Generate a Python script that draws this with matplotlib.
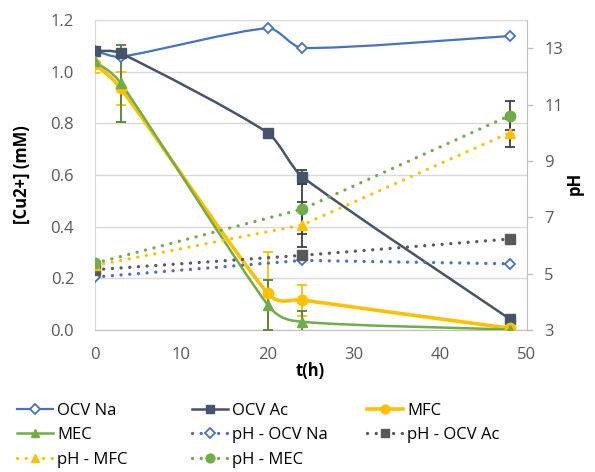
import matplotlib
matplotlib.use('Agg')
import matplotlib.pyplot as plt
from matplotlib.path import Path
from matplotlib.patches import PathPatch
from matplotlib.lines import Line2D
import numpy as np

plt.rcParams['font.family'] = ['Open Sans', 'DejaVu Sans']

# Cu2+ concentration (mM), left axis
t_cu = [0, 3, 20, 24, 48]
cu_ocv_na = [1.081, 1.058, 1.168, 1.092, 1.138]
cu_ocv_ac = [1.080, 1.071, 0.763, 0.593, 0.043]
cu_mfc = [1.030, 0.935, 0.142, 0.116, 0.007]
cu_mec = [1.040, 0.955, 0.097, 0.032, 0.002]
err_ocv_ac = [0, 0, 0, 0.026, 0]
err_mfc = [0.035, 0.063, 0.160, 0.060, 0]
err_mec = [0, 0.150, 0.095, 0.040, 0]

# pH, right axis
t_ph = [0, 24, 48]
ph_ocv_na = [4.88, 5.47, 5.35]
ph_ocv_ac = [5.14, 5.65, 6.23]
ph_mfc = [5.29, 6.73, 10.00]
ph_mec = [5.37, 7.29, 10.61]
err_ph_mfc = [0, 0.8, 0.5]
err_ph_mec = [0, 0.9, 0.5]

C_NA = '#4472C4'
C_AC = '#44546A'
C_MFC = '#FFC000'
C_MEC = '#70AD47'
C_PHAC = '#595959'
GRID = '#D9D9D9'
DOT = (0, (0.01, 2.6))


def smooth_path(x, y):
    # excel-ish smoothed line: catmull-rom bezier, control arms clamped
    pts = np.column_stack([x, y]).astype(float)
    n = len(pts)
    verts = [pts[0]]
    codes = [Path.MOVETO]
    for i in range(n - 1):
        p0 = pts[max(i - 1, 0)]
        p1 = pts[i]
        p2 = pts[i + 1]
        p3 = pts[min(i + 2, n - 1)]
        h = p2[0] - p1[0]
        v1 = (p2 - p0) / 6
        v2 = (p3 - p1) / 6
        if abs(v1[0]) > h / 3:
            v1 = v1 * (h / 3) / abs(v1[0])
        if abs(v2[0]) > h / 3:
            v2 = v2 * (h / 3) / abs(v2[0])
        verts += [p1 + v1, p2 - v2, p2]
        codes += [Path.CURVE4] * 3
    return Path(verts, codes)


def add_errors(ax, x, y, err, color):
    x = np.asarray(x)
    y = np.asarray(y)
    err = np.asarray(err)
    m = err > 0
    ax.errorbar(x[m], y[m], yerr=err[m], fmt='none', ecolor=color,
                elinewidth=1.3, capsize=3.5, capthick=1.3, zorder=4)


fig = plt.figure(figsize=(5.95, 4.72), dpi=100)
ax = fig.add_axes([0.1597, 0.3008, 0.7260, 0.6568])
ax2 = ax.twinx()

# solid Cu2+ series
solid = [
    (cu_ocv_na, C_NA, 1.6, dict(marker='D', ms=5.5, mfc='white', mec=C_NA, mew=1.3)),
    (cu_ocv_ac, C_AC, 1.8, dict(marker='s', ms=7, mfc=C_AC, mec=C_AC)),
    (cu_mfc, C_MFC, 2.6, dict(marker='o', ms=7.5, mfc=C_MFC, mec=C_MFC)),
    (cu_mec, C_MEC, 1.8, dict(marker='^', ms=7, mfc=C_MEC, mec=C_MEC)),
]
for vals, col, lw, mk in solid:
    ax.add_patch(PathPatch(smooth_path(t_cu, vals), fill=False, edgecolor=col,
                           lw=lw, zorder=3, capstyle='round', joinstyle='round'))
    ax.plot(t_cu, vals, linestyle='none', zorder=5, **mk)

add_errors(ax, t_cu, cu_ocv_ac, err_ocv_ac, '#404040')
add_errors(ax, t_cu, cu_mfc, err_mfc, C_MFC)
add_errors(ax, t_cu, cu_mec, err_mec, '#548235')

# dotted pH series
dotted = [
    (ph_ocv_na, C_NA, dict(marker='D', ms=5.5, mfc='white', mec=C_NA, mew=1.3)),
    (ph_ocv_ac, C_PHAC, dict(marker='s', ms=7, mfc=C_PHAC, mec=C_PHAC)),
    (ph_mfc, C_MFC, dict(marker='^', ms=7.5, mfc=C_MFC, mec=C_MFC)),
    (ph_mec, C_MEC, dict(marker='o', ms=7.5, mfc=C_MEC, mec=C_MEC)),
]
for vals, col, mk in dotted:
    ax2.plot(t_ph, vals, color=col, lw=2.4, linestyle=DOT,
             dash_capstyle='round', zorder=3)
    ax2.plot(t_ph, vals, linestyle='none', zorder=5, **mk)

add_errors(ax2, t_ph, ph_mfc, err_ph_mfc, '#404040')
add_errors(ax2, t_ph, ph_mec, err_ph_mec, '#404040')

# axes styling
ax.set_xlim(0, 50)
ax.set_ylim(0, 1.2)
ax.set_xticks(range(0, 51, 10))
ax.set_yticks(np.arange(0, 1.21, 0.2))
ax.set_yticklabels([f'{v:.1f}' for v in np.arange(0, 1.21, 0.2)])
ax.grid(axis='y', color=GRID, lw=1.0)
ax.set_axisbelow(True)
ax2.set_ylim(3, 14)
ax2.set_yticks(range(3, 14, 2))

for s in ['top', 'right']:
    ax.spines[s].set_visible(False)
ax.spines['left'].set_color(GRID)
ax.spines['bottom'].set_color('#BFBFBF')
for s in ['top', 'left', 'bottom']:
    ax2.spines[s].set_visible(False)
ax2.spines['right'].set_color('#BFBFBF')

ax.tick_params(axis='both', length=0, labelsize=12, labelcolor='#595959')
ax.tick_params(axis='y', pad=15)
ax.tick_params(axis='x', pad=12)
ax2.tick_params(axis='y', length=4.5, color='#BFBFBF', width=1, pad=8,
                labelsize=12, labelcolor='#595959')

fig.text(0.037, 0.63, '[Cu2+] (mM)', rotation=90, ha='center', va='center',
         fontsize=12, fontweight='bold')
fig.text(0.966, 0.612, 'pH', rotation=90, ha='center', va='center',
         fontsize=12, fontweight='bold')
fig.text(0.521, 0.214, 't(h)', ha='center', va='center',
         fontsize=12, fontweight='bold')

# legend, laid out in three columns like the excel one
def handle(col, ls, lw, **mk):
    return Line2D([], [], color=col, linestyle=ls, lw=lw,
                  dash_capstyle='round', **mk)

h_na = handle(C_NA, '-', 1.6, **solid[0][3])
h_ac = handle(C_AC, '-', 1.8, **solid[1][3])
h_mfc = handle(C_MFC, '-', 2.6, **solid[2][3])
h_mec = handle(C_MEC, '-', 1.8, **solid[3][3])
h_pna = handle(C_NA, DOT, 2.4, **dotted[0][2])
h_pac = handle(C_PHAC, DOT, 2.4, **dotted[1][2])
h_pmfc = handle(C_MFC, DOT, 2.4, **dotted[2][2])
h_pmec = handle(C_MEC, DOT, 2.4, **dotted[3][2])

columns = [
    (0.0286, [h_na, h_mec, h_pmfc], ['OCV Na', 'MEC', 'pH - MFC']),
    (0.3227, [h_ac, h_pna, h_pmec], ['OCV Ac', 'pH - OCV Na', 'pH - MEC']),
    (0.6168, [h_mfc, h_pac], ['MFC', 'pH - OCV Ac']),
]
for x0, hs, labels in columns:
    fig.legend(hs, labels, loc='upper left', bbox_to_anchor=(x0, 0.1465),
               frameon=False, fontsize=12, borderpad=0, borderaxespad=0,
               handlelength=2.15, handletextpad=0.25, labelspacing=0.5,
               markerscale=0.85)

fig.savefig('out.png', dpi=100)
